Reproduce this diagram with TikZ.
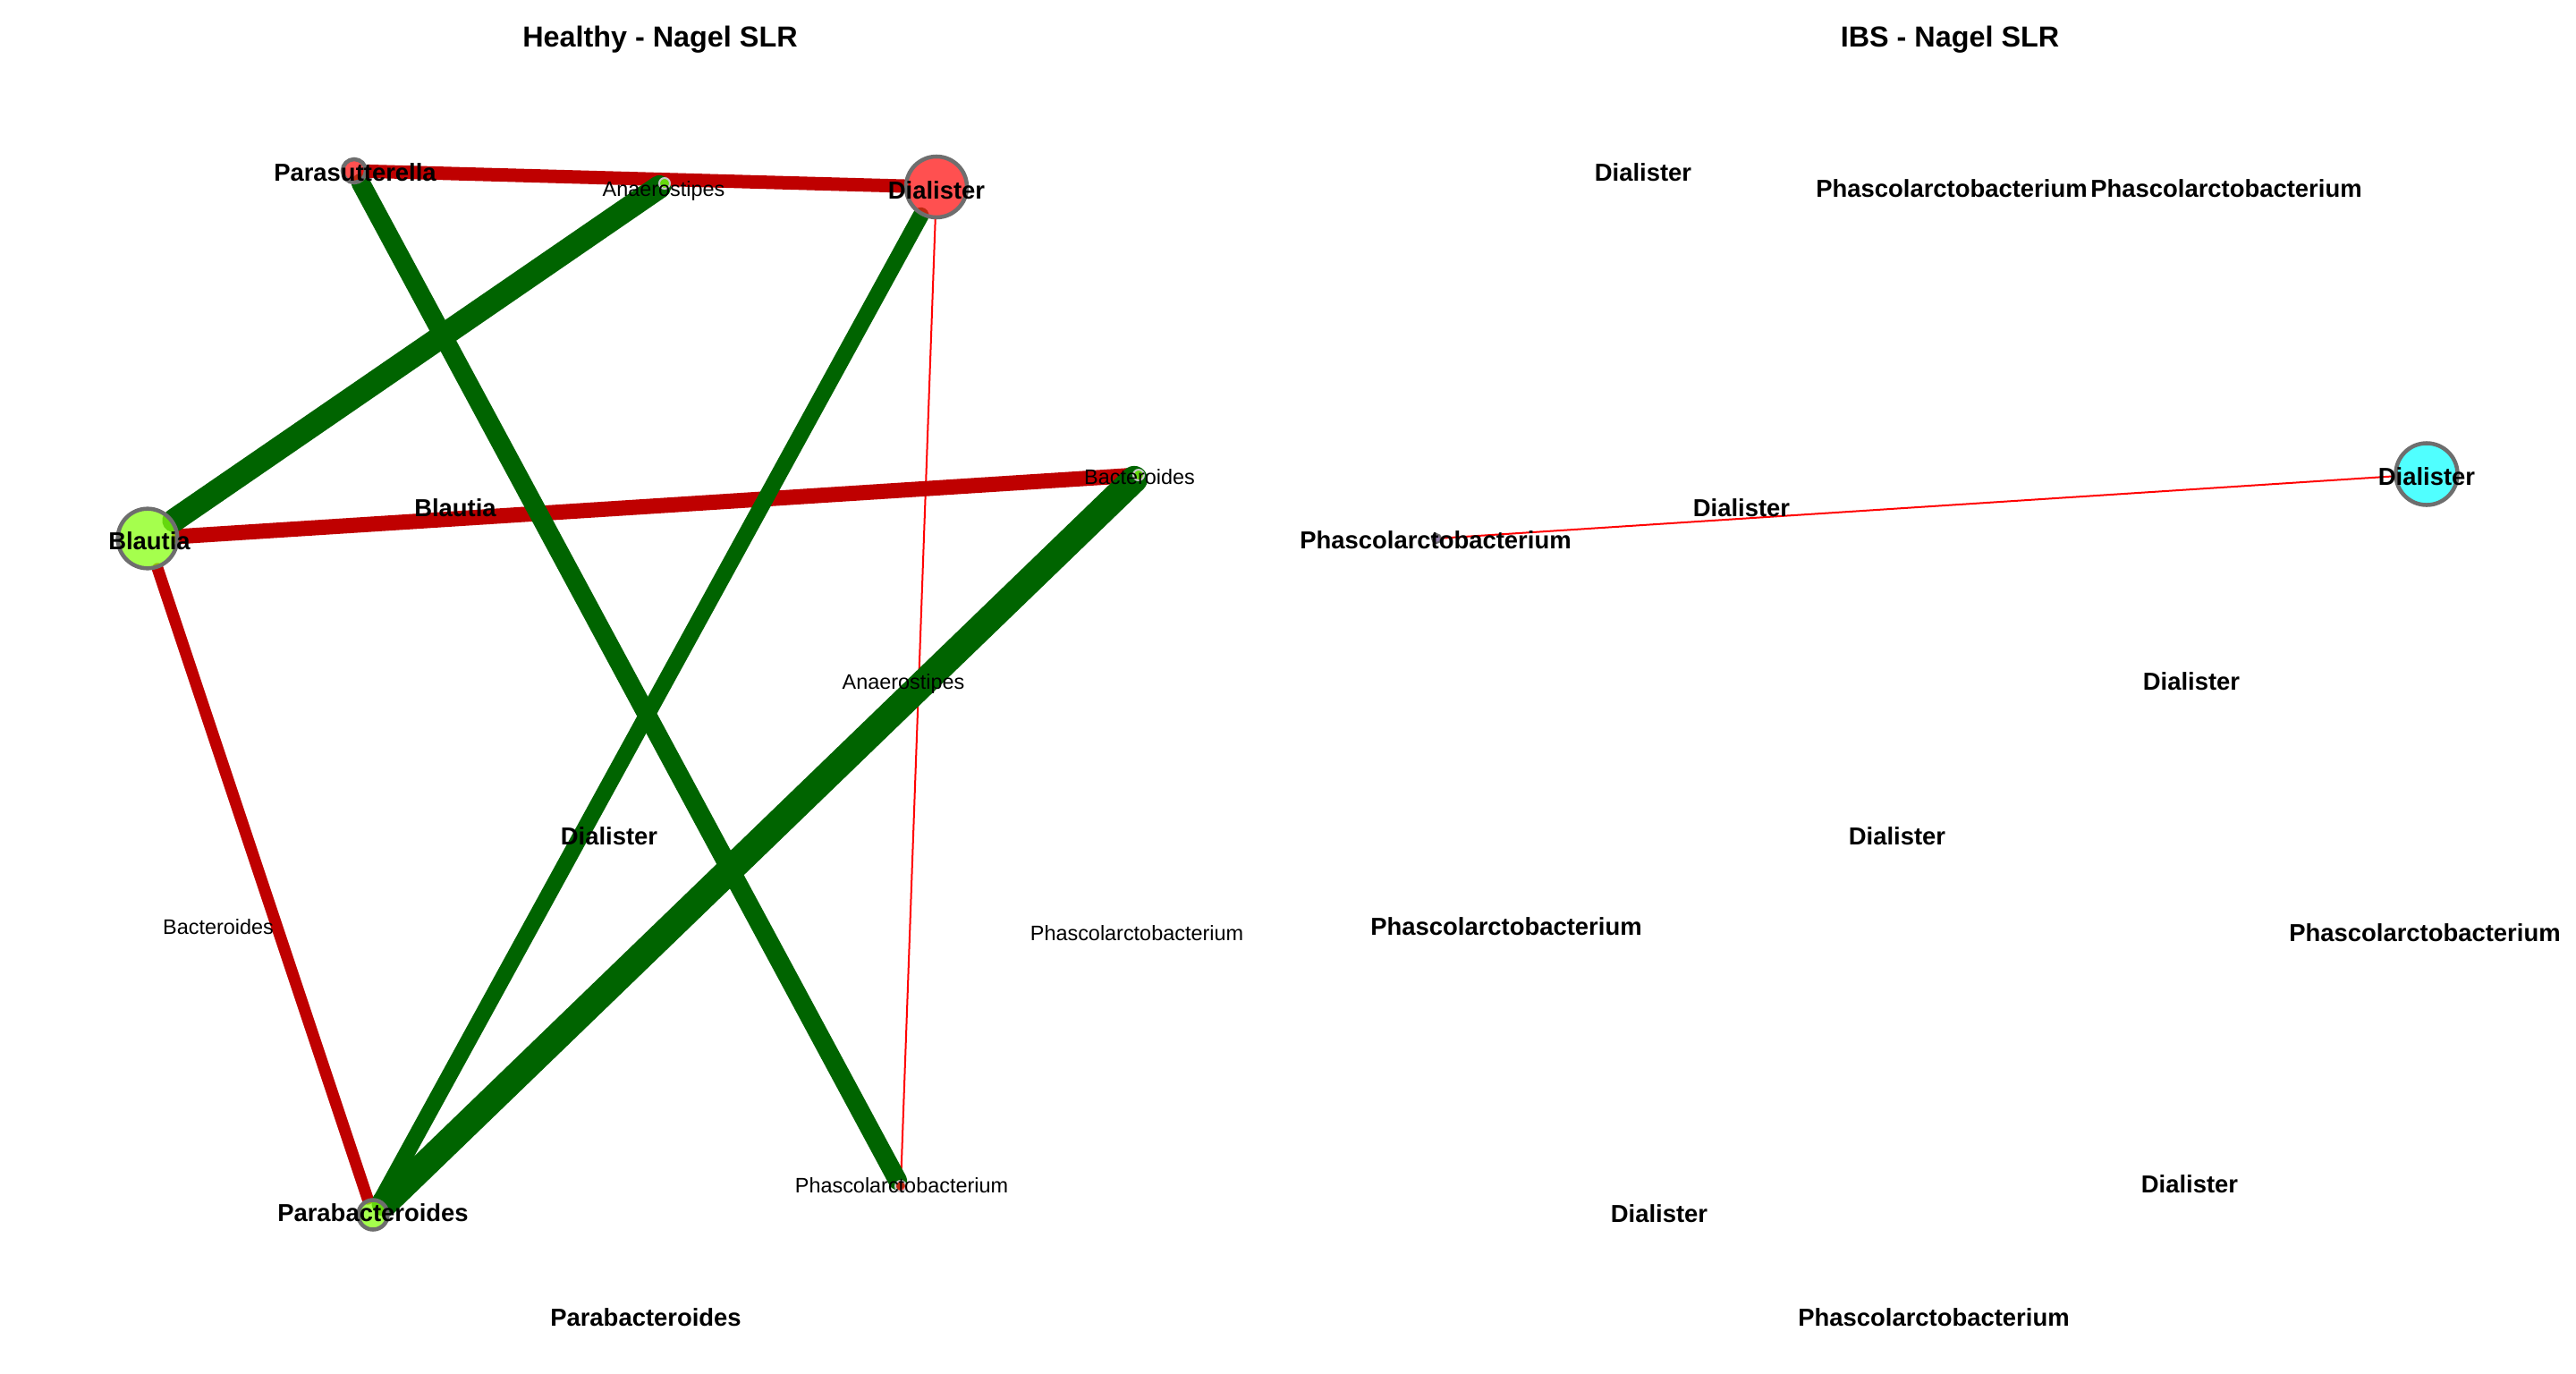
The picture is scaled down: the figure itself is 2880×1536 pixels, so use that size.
\documentclass[tikz,border=0pt]{standalone}
\usepackage{fontspec}
\setmainfont{Liberation Sans}
\usetikzlibrary{backgrounds}
\pgfdeclarelayer{bgzero}
\pgfsetlayers{bgzero,background,main}
\definecolor{nred}{RGB}{255,22,22}
\definecolor{ngreen}{RGB}{136,255,18}
\definecolor{ncyan}{RGB}{22,255,255}
\definecolor{npurple}{RGB}{120,90,150}
\definecolor{bgray}{RGB}{110,110,110}
\definecolor{lgray}{RGB}{200,200,200}
\definecolor{ered}{RGB}{191,0,0}
\definecolor{egreen}{RGB}{0,100,0}
\definecolor{ethin}{RGB}{255,0,0}
\begin{document}
\begin{tikzpicture}[x=0.01cm,y=-0.01cm,
  bignode/.style={circle,draw=bgray,line width=0.45mm,fill opacity=0.75,draw opacity=1,inner sep=0pt},
  smallnode/.style={circle,draw=lgray,line width=0.2mm,fill opacity=0.75,draw opacity=1,inner sep=0pt,minimum size=1.2mm},
  hublabel/.style={font=\fontsize{7.8}{9}\selectfont\bfseries,text height=5.6pt,text depth=0pt,inner sep=0pt},
  leaflabel/.style={font=\fontsize{6.66}{8}\selectfont,text height=4.77pt,text depth=0pt,inner sep=0pt},
  titlelabel/.style={font=\fontsize{9.2}{11}\selectfont\bfseries,text height=6.6pt,text depth=0pt,inner sep=0pt},
  edge/.style={line cap=round}
]
\useasboundingbox (0,0) rectangle (2880,1536);
\begin{pgfonlayer}{bgzero}
\fill[white] (0,0) rectangle (2880,1536);
\end{pgfonlayer}

% titles
\node[titlelabel] (tH) at (738,41) {Healthy - Nagel SLR};
\node[titlelabel] (tI) at (2180,41) {IBS - Nagel SLR};

% ---------- Healthy panel: node circles ----------
\node[bignode,fill=nred,minimum size=2.6mm] (hPar) at (396,191) {};
\node[smallnode,fill=ngreen] (hAna) at (743,205) {};
\node[bignode,fill=nred,minimum size=6.8mm] (hDia) at (1047,209) {};
\node[smallnode,fill=ngreen] (hBac) at (1273,531) {};
\node[bignode,fill=ngreen,minimum size=6.66mm] (hBla) at (165,602) {};
\node[bignode,fill=ngreen,minimum size=3.3mm] (hPbc) at (417,1358) {};
\node[smallnode,fill=nred] (hPha) at (1007,1326) {};

% edges
\begin{pgfonlayer}{background}
\draw[edge,ethin,line width=0.2mm] (hDia) -- (hPha);
\draw[edge,ered,line width=1.5mm] (hPar) -- (hDia);
\draw[edge,ered,line width=1.7mm] (hBla) -- (hBac);
\draw[edge,ered,line width=1.3mm] (hBla) -- (hPbc);
\draw[edge,egreen,line width=2.6mm] (hAna) -- (hBla);
\draw[edge,egreen,line width=2.1mm] (hPar) -- (hPha);
\draw[edge,egreen,line width=1.8mm] (hDia) -- (hPbc);
\draw[edge,egreen,line width=3.0mm] (hBac) -- (hPbc);
\end{pgfonlayer}

% labels on nodes
\node[hublabel] (hParL) at (397,193) {Parasutterella};
\node[leaflabel] (hAnaL) at (742,211) {Anaerostipes};
\node[hublabel] (hDiaL) at (1047,213) {Dialister};
\node[leaflabel] (hBacL) at (1274,533) {Bacteroides};
\node[hublabel] (hBlaL) at (167,605) {Blautia};
\node[hublabel] (hPbcL) at (417,1356) {Parabacteroides};
\node[leaflabel] (hPhaL) at (1008,1325) {Phascolarctobacterium};

% floating labels
\node[hublabel] (hf1) at (509,568) {Blautia};
\node[leaflabel] (hf2) at (1010,762) {Anaerostipes};
\node[hublabel] (hf3) at (681,935) {Dialister};
\node[leaflabel] (hf4) at (244,1036) {Bacteroides};
\node[leaflabel] (hf5) at (1271,1043) {Phascolarctobacterium};
\node[hublabel] (hf6) at (722,1473) {Parabacteroides};

% ---------- IBS panel ----------
\node[bignode,fill=ncyan,minimum size=6.9mm] (iDia) at (2713,530) {};
\node[smallnode,draw=bgray,fill=npurple,minimum size=1mm] (iPha) at (1606,602) {};
\begin{pgfonlayer}{background}
\draw[edge,ethin,line width=0.2mm] (iPha) -- (iDia);
\end{pgfonlayer}

\node[hublabel] (i1) at (1837,193) {Dialister};
\node[hublabel] (i2) at (2182,211) {Phascolarctobacterium};
\node[hublabel] (i3) at (2489,211) {Phascolarctobacterium};
\node[hublabel] (iDiaL) at (2713,533) {Dialister};
\node[hublabel] (i5) at (1947,568) {Dialister};
\node[hublabel] (iPhaL) at (1605,604) {Phascolarctobacterium};
\node[hublabel] (i7) at (2450,762) {Dialister};
\node[hublabel] (i8) at (2121,935) {Dialister};
\node[hublabel] (i9) at (1684,1036) {Phascolarctobacterium};
\node[hublabel] (i10) at (2711,1043) {Phascolarctobacterium};
\node[hublabel] (i11) at (1855,1357) {Dialister};
\node[hublabel] (i12) at (2448,1324) {Dialister};
\node[hublabel] (i13) at (2162,1473) {Phascolarctobacterium};
\end{tikzpicture}
\end{document}
